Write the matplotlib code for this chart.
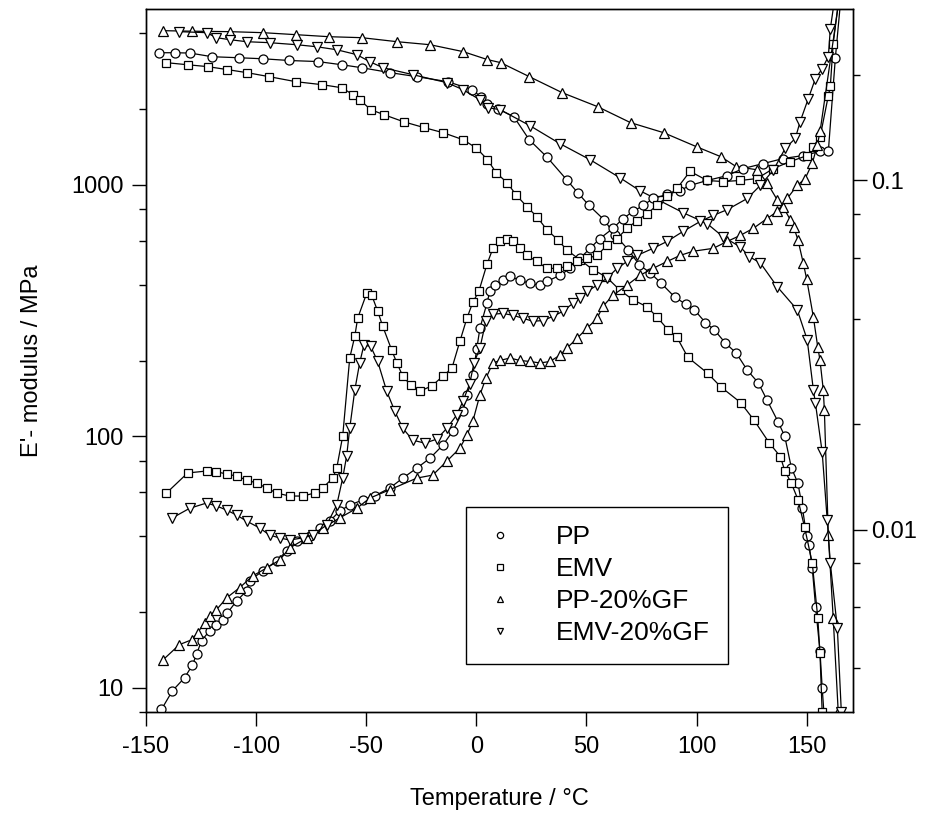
import matplotlib
matplotlib.use('Agg')
import matplotlib.pyplot as plt
from matplotlib import ticker
from matplotlib.lines import Line2D

# ---------------------------
# DATA
# ---------------------------
# Storage modulus E' [MPa], left axis
pp_T_E = [-144, -137, -130, -120, -108, -97, -85, -72, -61, -52,
          -39, -27, -13, -2, 2, 5, 10, 17, 24, 32,
          41, 46, 51, 58, 63, 69, 74, 79, 84, 90,
          95, 99, 104, 108, 113, 118, 123, 128, 132, 137,
          140, 143, 146, 148, 150, 151, 152.5, 154, 156, 157,
          158]
pp_E = [3350, 3350, 3340, 3230, 3200, 3170, 3120, 3090, 3000, 2920,
        2790, 2690, 2570, 2390, 2240, 2100, 2000, 1865, 1510, 1290,
        1047, 930, 830, 725, 630, 551, 480, 446, 405, 358,
        335, 318, 283, 265, 235, 214, 183, 163, 139, 114,
        100, 75, 65, 52, 40, 37, 30, 21, 14, 10,
        7.5]

emv_T_E = [-141, -131, -122, -113, -104, -94, -82, -70, -61, -56,
           -53, -48, -42, -33, -24, -15, -6, 0, 5, 9,
           14, 18, 23, 27.5, 32, 37, 41, 47, 53, 59,
           65, 71, 77.5, 82, 87, 91, 96, 105, 111, 120,
           126, 133, 138, 140, 143, 146, 149, 152.5, 155, 156,
           157]
emv_E = [3060, 3000, 2950, 2870, 2790, 2690, 2570, 2500, 2430, 2280,
         2180, 1990, 1900, 1780, 1690, 1610, 1510, 1400, 1260, 1116,
         1018, 912, 817, 746, 662, 604, 551, 503, 459, 430,
         382, 349, 327, 298, 265, 248, 206, 178, 157, 136,
         116, 94, 83, 73, 65, 56, 43.5, 31.3, 19, 13.7,
         8]

ppgf_T_E = [-142.5, -129, -112, -97, -82, -67, -52, -36, -21, -6,
            5, 11, 24, 39, 55, 70, 85, 100, 111, 118,
            127.5, 132, 136.6, 139.3, 142.5, 144, 146, 148.4, 150, 153,
            155, 156, 157.5, 158, 159.8, 162, 164.3]
ppgf_E = [4100, 4080, 4063, 4026, 3953, 3880, 3845, 3706, 3605, 3384,
          3146, 3060, 2692, 2323, 2045, 1766, 1611, 1416, 1293, 1180,
          1147, 1018, 871, 817, 726, 681, 604, 489, 420, 298,
          226, 201, 153, 127, 40.4, 19, 8]

emvgf_T_E = [-134.8, -122.5, -118, -112, -104.3, -93.9, -81.6, -72.5, -63.4, -54.3,
             -48.4, -42.5, -28.9, -13.4, -6.1, 1.6, 5.2, 10.7, 24.3, 38,
             51.6, 65.2, 74.3, 83.4, 93.9, 104.8, 112, 119.8, 124, 128.9,
             136.6, 145.7, 150.2, 153, 153.9, 157, 159.3, 160.7, 163.9, 165.7]
emvgf_E = [4063, 4026, 3845, 3776, 3706, 3673, 3605, 3539, 3443, 3292,
           3087, 2923, 2741, 2547, 2389, 2178, 2025, 1990, 1718, 1456,
           1258, 1066, 946, 863, 774, 700, 621, 566, 517, 489,
           393, 318, 242, 153, 136, 86.5, 46.4, 31.3, 17.2, 8]

# Loss factor tan delta, right axis
pp_T_tan = [-143, -138, -132.5, -128.9, -127, -124.8, -121.1, -118, -115.2, -113,
            -108.9, -104.3, -103, -97, -90.7, -86.1, -81.6, -75.7, -71.1, -66.6,
            -62, -57.5, -51.6, -46, -39.3, -33.4, -27, -21.1, -15.2, -10.7,
            -6.1, -4.3, -1.6, 0.2, 1.6, 4.8, 6.1, 8.4, 12, 15.2,
            19.8, 24.3, 28.9, 32, 38, 42.5, 47, 51.6, 56.1, 62,
            66.6, 71.1, 75.7, 80.2, 86.6, 92.5, 97, 104.8, 113.9, 121.1,
            130.2, 139.3, 148.4, 156.1, 159.8, 163, 166]
pp_tan = [0.00305, 0.00345, 0.00376, 0.00409, 0.0044, 0.0048, 0.00513, 0.00533, 0.00551, 0.00577,
          0.00624, 0.00667, 0.00713, 0.00761, 0.00813, 0.00868, 0.00927, 0.00958, 0.0101, 0.01057,
          0.0113, 0.01175, 0.01215, 0.0125, 0.01315, 0.01404, 0.015, 0.016, 0.01745, 0.01914,
          0.02185, 0.0243, 0.0277, 0.033, 0.0377, 0.0445, 0.0481, 0.0501, 0.0518, 0.0531,
          0.0518, 0.0507, 0.0501, 0.0514, 0.0535, 0.056, 0.0598, 0.0639, 0.0682, 0.0729,
          0.0778, 0.0815, 0.0848, 0.0888, 0.0912, 0.0936, 0.0968, 0.1, 0.1033, 0.1082,
          0.1118, 0.1156, 0.1179, 0.1211, 0.1211, 0.225, 0.36]

emv_T_tan = [-140.7, -131.1, -122.5, -118, -113.4, -108.9, -104.3, -99.8, -95.2, -90.7,
             -84.8, -78.9, -73.4, -69.8, -65.2, -63.4, -60.7, -57.5, -55.2, -53.9,
             -49.8, -47.5, -44.8, -42.5, -38.4, -36.1, -33.4, -29.8, -25.7, -20.2,
             -15.2, -11.1, -7.5, -4.3, -1.6, 1.1, 4.8, 7.5, 10.7, 13.9,
             16.6, 19.8, 23, 27.5, 32, 36.6, 41.1, 45.7, 50.2, 54.8,
             59.3, 63.9, 68.4, 73, 77.5, 82, 86.6, 91.1, 97, 104.8,
             112, 119.8, 127.5, 134.8, 142.5, 150.2, 153, 156.1, 159.8, 160.7,
             162, 164.5]
emv_tan = [0.01272, 0.01452, 0.01471, 0.01464, 0.01442, 0.01423, 0.01386, 0.01359, 0.01315, 0.01272,
           0.01247, 0.01247, 0.01272, 0.01315, 0.01404, 0.015, 0.0185, 0.031, 0.0358, 0.0403,
           0.0475, 0.0469, 0.0422, 0.0382, 0.0326, 0.03, 0.0275, 0.0259, 0.0249, 0.0258,
           0.0275, 0.029, 0.0346, 0.0403, 0.0448, 0.0481, 0.0575, 0.0639, 0.0673, 0.0682,
           0.0669, 0.0639, 0.061, 0.0586, 0.056, 0.056, 0.0567, 0.0586, 0.0598, 0.061,
           0.0652, 0.0682, 0.0729, 0.0768, 0.0804, 0.0848, 0.09, 0.0949, 0.1062, 0.1,
           0.0993, 0.1, 0.1013, 0.1082, 0.1133, 0.1179, 0.1251, 0.1336, 0.175, 0.186,
           0.2466, 0.33]

ppgf_T_tan = [-142.3, -134.8, -129.3, -126.6, -123.4, -121.1, -118, -113.4, -107.5, -101.6,
              -95.2, -89.3, -84.8, -77, -69.8, -62, -54.3, -48.4, -39.3, -27,
              -19.8, -13.4, -7.5, -4.3, -1.6, 1.6, 4.3, 7.5, 10.7, 15.2,
              19.8, 24.3, 28.9, 33.4, 38, 41.1, 45.7, 50.2, 54.8, 57.5,
              62, 68.4, 74.3, 80.2, 86.6, 92.5, 98.4, 107.5, 113.9, 119.8,
              125.7, 132, 136.6, 141.1, 145.7, 149.3, 152.5, 154.8, 156.1, 165]
ppgf_tan = [0.00423, 0.00468, 0.00483, 0.00506, 0.0054, 0.00566, 0.00589, 0.00637, 0.00681, 0.00736,
            0.00776, 0.00818, 0.00885, 0.00946, 0.0101, 0.0108, 0.0115, 0.0123, 0.013, 0.01404,
            0.01432, 0.0157, 0.0171, 0.01864, 0.02044, 0.0243, 0.0271, 0.03, 0.0305, 0.031,
            0.0305, 0.0303, 0.03, 0.0303, 0.0316, 0.0331, 0.0353, 0.0377, 0.0403, 0.0436,
            0.0469, 0.0501, 0.0535, 0.056, 0.0586, 0.061, 0.0627, 0.0639, 0.0669, 0.0696,
            0.0729, 0.0778, 0.0815, 0.0888, 0.0968, 0.1013, 0.112, 0.126, 0.139, 0.34]

emvgf_T_tan = [-138, -130.2, -122.5, -118, -113.4, -108.9, -104.3, -98.4, -93.9, -89.3,
               -84.8, -78.9, -74.3, -68, -63.4, -60.7, -58.9, -57.5, -55.2, -53,
               -51.1, -48, -44.8, -40.7, -37, -33.4, -28.9, -23.4, -18, -13.4,
               -8.9, -6.1, -3, -1.1, 1.6, 4.3, 7.5, 12, 16.6, 21.1,
               25.7, 30.2, 34.8, 39.3, 43.9, 47, 50.2, 54.8, 59.3, 63.9,
               68.4, 73, 80.2, 86.6, 93.9, 101.6, 107.5, 113.9, 123, 128.9,
               134.8, 140.2, 144.8, 147, 150.7, 153.9, 157, 159.8, 160.7, 163.5]
emvgf_tan = [0.0108, 0.0115, 0.01191, 0.01168, 0.01137, 0.011, 0.01057, 0.0101, 0.00964, 0.00946,
             0.00933, 0.00946, 0.00964, 0.0103, 0.01175, 0.01404, 0.01623, 0.0195, 0.0251, 0.03,
             0.0337, 0.0335, 0.0303, 0.0249, 0.0218, 0.0195, 0.01803, 0.01768, 0.01815, 0.0195,
             0.0213, 0.0233, 0.0262, 0.03, 0.0331, 0.0395, 0.0414, 0.0416, 0.0411, 0.0403,
             0.0395, 0.0397, 0.0408, 0.0422, 0.0445, 0.046, 0.0481, 0.0501, 0.0525, 0.056,
             0.0586, 0.061, 0.0639, 0.0669, 0.0715, 0.0763, 0.0794, 0.0825, 0.0888, 0.0968,
             0.107, 0.1235, 0.132, 0.1475, 0.1716, 0.1957, 0.209, 0.2264, 0.272, 0.36]

labels = ['PP', 'EMV', 'PP-20%GF', 'EMV-20%GF']
markers = ['o', 's', '^', 'v']
msizes = [6.5, 5.8, 7, 7]

# ---------------------------
# PLOT
# ---------------------------
plt.rcParams['font.family'] = ['Liberation Sans', 'DejaVu Sans']
plt.rcParams['axes.unicode_minus'] = False

fig = plt.figure(figsize=(9.34, 8.22), dpi=100)
ax = fig.add_axes([146 / 934, 1 - 712 / 822, 707 / 934, 703 / 822])
ax2 = ax.twinx()

E_sets = [(pp_T_E, pp_E), (emv_T_E, emv_E), (ppgf_T_E, ppgf_E), (emvgf_T_E, emvgf_E)]
tan_sets = [(pp_T_tan, pp_tan), (emv_T_tan, emv_tan), (ppgf_T_tan, ppgf_tan), (emvgf_T_tan, emvgf_tan)]

for (t, v), m, s in zip(E_sets, markers, msizes):
    ax.plot(t, v, color='black', lw=0.9, marker=m, ms=s, mfc='white', mec='black', mew=0.9)
for (t, v), m, s in zip(tan_sets, markers, msizes):
    ax2.plot(t, v, color='black', lw=0.9, marker=m, ms=s, mfc='white', mec='black', mew=0.9)

# Axes scales and limits
ax.set_xlim(-150, 171)
ax.set_yscale('log')
ax.set_ylim(8, 5000)
ax2.set_yscale('log')
ax2.set_ylim(0.003, 0.31)

fmt = ticker.FuncFormatter(lambda v, p: f'{v:g}')
ax.set_xticks([-150, -100, -50, 0, 50, 100, 150])
ax.yaxis.set_major_locator(ticker.FixedLocator([10, 100, 1000]))
ax.yaxis.set_major_formatter(fmt)
ax.yaxis.set_minor_locator(ticker.LogLocator(base=10, subs=(2, 4, 6, 8)))
ax.yaxis.set_minor_formatter(ticker.NullFormatter())
ax2.yaxis.set_major_locator(ticker.FixedLocator([0.01, 0.1]))
ax2.yaxis.set_major_formatter(fmt)
ax2.yaxis.set_minor_locator(ticker.LogLocator(base=10, subs=(2, 4, 6, 8)))
ax2.yaxis.set_minor_formatter(ticker.NullFormatter())

for a in (ax, ax2):
    a.tick_params(which='major', direction='out', length=10, width=1, labelsize=17)
    a.tick_params(which='minor', direction='out', length=5, width=1)
    for sp in a.spines.values():
        sp.set_linewidth(1)
ax.tick_params(axis='x', pad=7)
ax.tick_params(axis='y', pad=6)
ax2.tick_params(axis='y', pad=3)

ax.set_xlabel('Temperature / °C', fontsize=17, labelpad=22)
ax.set_ylabel("E'- modulus / MPa", fontsize=17, labelpad=20)

# Legend with markers only
handles = [Line2D([], [], ls='none', marker=m, ms=4.5, mfc='white', mec='black', mew=0.9)
           for m in markers]
leg = ax2.legend(handles, labels, loc='upper left', bbox_to_anchor=(0.4526, 0.2916),
                 borderaxespad=0, fontsize=19, frameon=True, fancybox=False,
                 edgecolor='black', framealpha=1, handlelength=1.2, handletextpad=1.5,
                 labelspacing=0.3, borderpad=0.7)
leg.get_frame().set_linewidth(1)

fig.savefig('out.png', dpi=100)
